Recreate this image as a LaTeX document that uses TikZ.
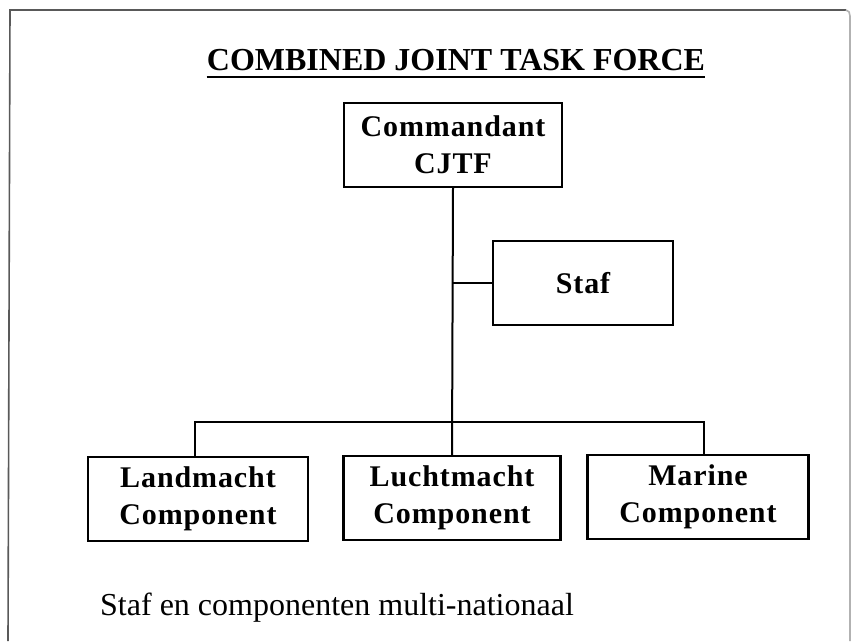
\documentclass[tikz,border=0pt]{standalone}
\usepackage{fontspec}
\setmainfont{Liberation Serif}
\newfontfamily\headfont{Liberation Serif Bold}
\newfontfamily\boxfont[LetterSpace=3]{Liberation Serif Bold}
\begin{document}
\begin{tikzpicture}[x=1pt,y=-1pt,
  unitbox/.style={draw, line width=2.4pt, inner sep=0pt, align=center,
    minimum height=84pt, font=\boxfont\fontsize{30}{37}\selectfont},
  link/.style={line width=2pt},
  frameline/.style={line width=1.6pt, draw=black!65}]
\useasboundingbox (0,0) rectangle (852,641);

% page frame
\draw[frameline] (8,641) -- (10,10) -- (846,10);
\draw[frameline, draw=black!30] (846,10) to[out=0,in=90] (850,16) -- (850,641);

% heading
\node[anchor=base, inner sep=0pt, font=\headfont\fontsize{32}{38}\selectfont]
  (title) at (456,70) {COMBINED JOINT TASK FORCE};
\draw[line width=2.2pt] ([yshift=-7pt]title.base west) -- ([yshift=-7pt]title.base east);

% units
\node[unitbox, minimum width=218pt] (cmd)  at (453,145) {Commandant\\CJTF};
\node[unitbox, minimum width=180pt] (staf) at (583,283) {Staf};
\node[unitbox, minimum width=220pt] (land) at (198,499) {Landmacht\\Component};
\node[unitbox, minimum width=217pt] (lucht) at (452,498) {Luchtmacht\\Component};
\node[unitbox, minimum width=221pt] (mar)  at (698,497) {Marine\\Component};

% connectors
\coordinate (bus) at (453,422);
\draw[link] (cmd.south) -- (lucht.north);
\draw[link] (staf.west) -- (staf.west -| cmd.south);
\draw[link] ([xshift=-3pt]land.north) |- (bus) -| ([xshift=6pt]mar.north);

% note
\node[anchor=base west, inner sep=0pt, font=\fontsize{32}{38}\selectfont]
  (note) at (100,615) {Staf en componenten multi-nationaal};
\end{tikzpicture}
\end{document}
